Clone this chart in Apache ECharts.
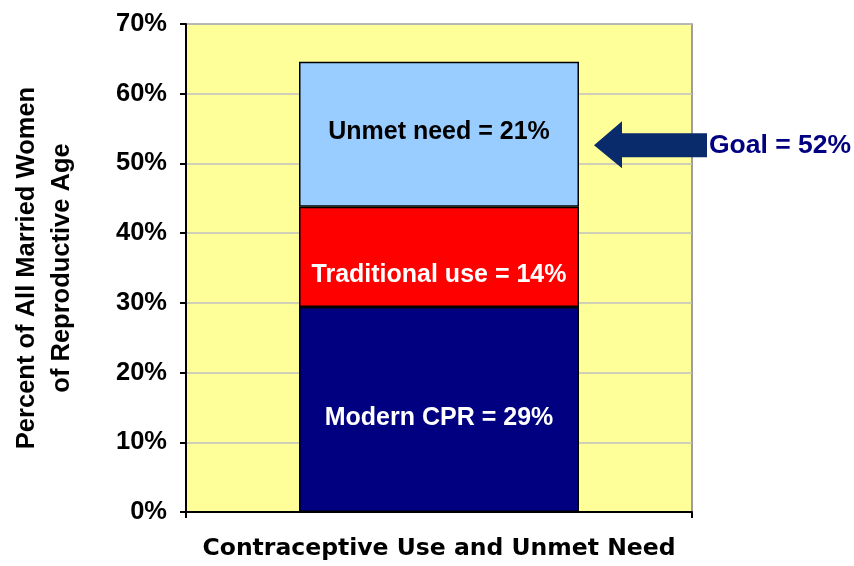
<!DOCTYPE html>
<html>
<head>
<meta charset="utf-8">
<script src="https://cdn.jsdelivr.net/npm/echarts@6/dist/echarts.min.js"></script>
<style>
    body{margin:0;background:#fff;}
    #chart{width:854px;height:566px;}
</style>
</head>
<body>
<div id="chart"></div>
<script>
var categories = ['Contraceptive Use and Unmet Need'];
var modernCPR = [29.4];
var traditionalUse = [14.4];
var unmetNeed = [20.8];
var segmentLabels = ['Modern CPR = 29%', 'Traditional use = 14%', 'Unmet need = 21%'];
var goalText = 'Goal = 52%';
var goalArrowAt = 52.6;

var fontName = '"Liberation Sans", Arial, sans-serif';

(function () {
    var myChart = echarts.init(document.getElementById('chart'));
    var option = {
        backgroundColor: '#fff',
        animation: false,
        grid: {
            left: 186,
            right: 162,
            top: 24,
            bottom: 50.5,
            show: true,
            backgroundColor: '#FFFF99',
            borderColor: '#808080',
            borderWidth: 1.5
        },
        xAxis: {
            type: 'category',
            data: categories,
            name: categories[0],
            nameLocation: 'middle',
            nameGap: 25,
            nameTextStyle: {
                fontFamily: '"DejaVu Sans", sans-serif',
                fontWeight: 'bold',
                fontSize: 23.5,
                color: '#000'
            },
            axisLine: {lineStyle: {color: '#000', width: 2}},
            axisTick: {show: true, length: 6, lineStyle: {color: '#000', width: 2}},
            axisLabel: {show: false}
        },
        yAxis: {
            type: 'value',
            min: 0,
            max: 70,
            interval: 10,
            name: 'Percent of All Married Women\nof Reproductive Age',
            nameLocation: 'middle',
            nameGap: 107,
            nameTextStyle: {
                fontFamily: fontName,
                fontWeight: 'bold',
                fontSize: 25.5,
                lineHeight: 35,
                color: '#000'
            },
            axisLine: {show: true, lineStyle: {color: '#000', width: 2}},
            axisTick: {show: true, length: 6, lineStyle: {color: '#000', width: 2}},
            axisLabel: {
                formatter: '{value}%',
                margin: 19,
                fontFamily: fontName,
                fontWeight: 'bold',
                fontSize: 25.5,
                color: '#000'
            },
            splitLine: {lineStyle: {color: '#C0C0C0', width: 1.5}}
        },
        series: [
            {
                name: 'Modern CPR',
                type: 'bar',
                stack: 'total',
                barWidth: 280,
                data: modernCPR,
                itemStyle: {color: '#000080', borderColor: '#000', borderWidth: 1.5},
                label: {
                    show: true,
                    position: 'inside',
                    offset: [0, 9],
                    formatter: segmentLabels[0],
                    fontFamily: fontName,
                    fontWeight: 'bold',
                    fontSize: 25,
                    color: '#fff'
                }
            },
            {
                name: 'Traditional use',
                type: 'bar',
                stack: 'total',
                barWidth: 280,
                data: traditionalUse,
                itemStyle: {color: '#FF0000', borderColor: '#000', borderWidth: 1.5},
                label: {
                    show: true,
                    position: 'inside',
                    offset: [0, 18],
                    formatter: segmentLabels[1],
                    fontFamily: fontName,
                    fontWeight: 'bold',
                    fontSize: 25,
                    color: '#fff'
                }
            },
            {
                name: 'Unmet need',
                type: 'bar',
                stack: 'total',
                barWidth: 280,
                data: unmetNeed,
                itemStyle: {color: '#99CCFF', borderColor: '#000', borderWidth: 1.5},
                label: {
                    show: true,
                    position: 'inside',
                    offset: [0, -2],
                    formatter: segmentLabels[2],
                    fontFamily: fontName,
                    fontWeight: 'bold',
                    fontSize: 25,
                    color: '#000'
                }
            }
        ]
    };
    myChart.setOption(option);

    // goal arrow, placed from the y axis scale
    var gy = myChart.convertToPixel({yAxisIndex: 0}, goalArrowAt);
    var tipX = 594;
    myChart.setOption({
        graphic: [
            {
                type: 'polygon',
                shape: {
                    points: [
                        [tipX, gy],
                        [tipX + 28, gy - 24],
                        [tipX + 28, gy - 12],
                        [tipX + 113, gy - 12],
                        [tipX + 113, gy + 12],
                        [tipX + 28, gy + 12],
                        [tipX + 28, gy + 23]
                    ]
                },
                style: {fill: '#0A2B6B'}
            },
            {
                type: 'text',
                x: 709,
                y: gy,
                style: {
                    text: goalText,
                    fontFamily: fontName,
                    fontWeight: 'bold',
                    fontSize: 26.5,
                    fill: '#000080',
                    verticalAlign: 'middle'
                }
            }
        ]
    });
})();
</script>
</body>
</html>
